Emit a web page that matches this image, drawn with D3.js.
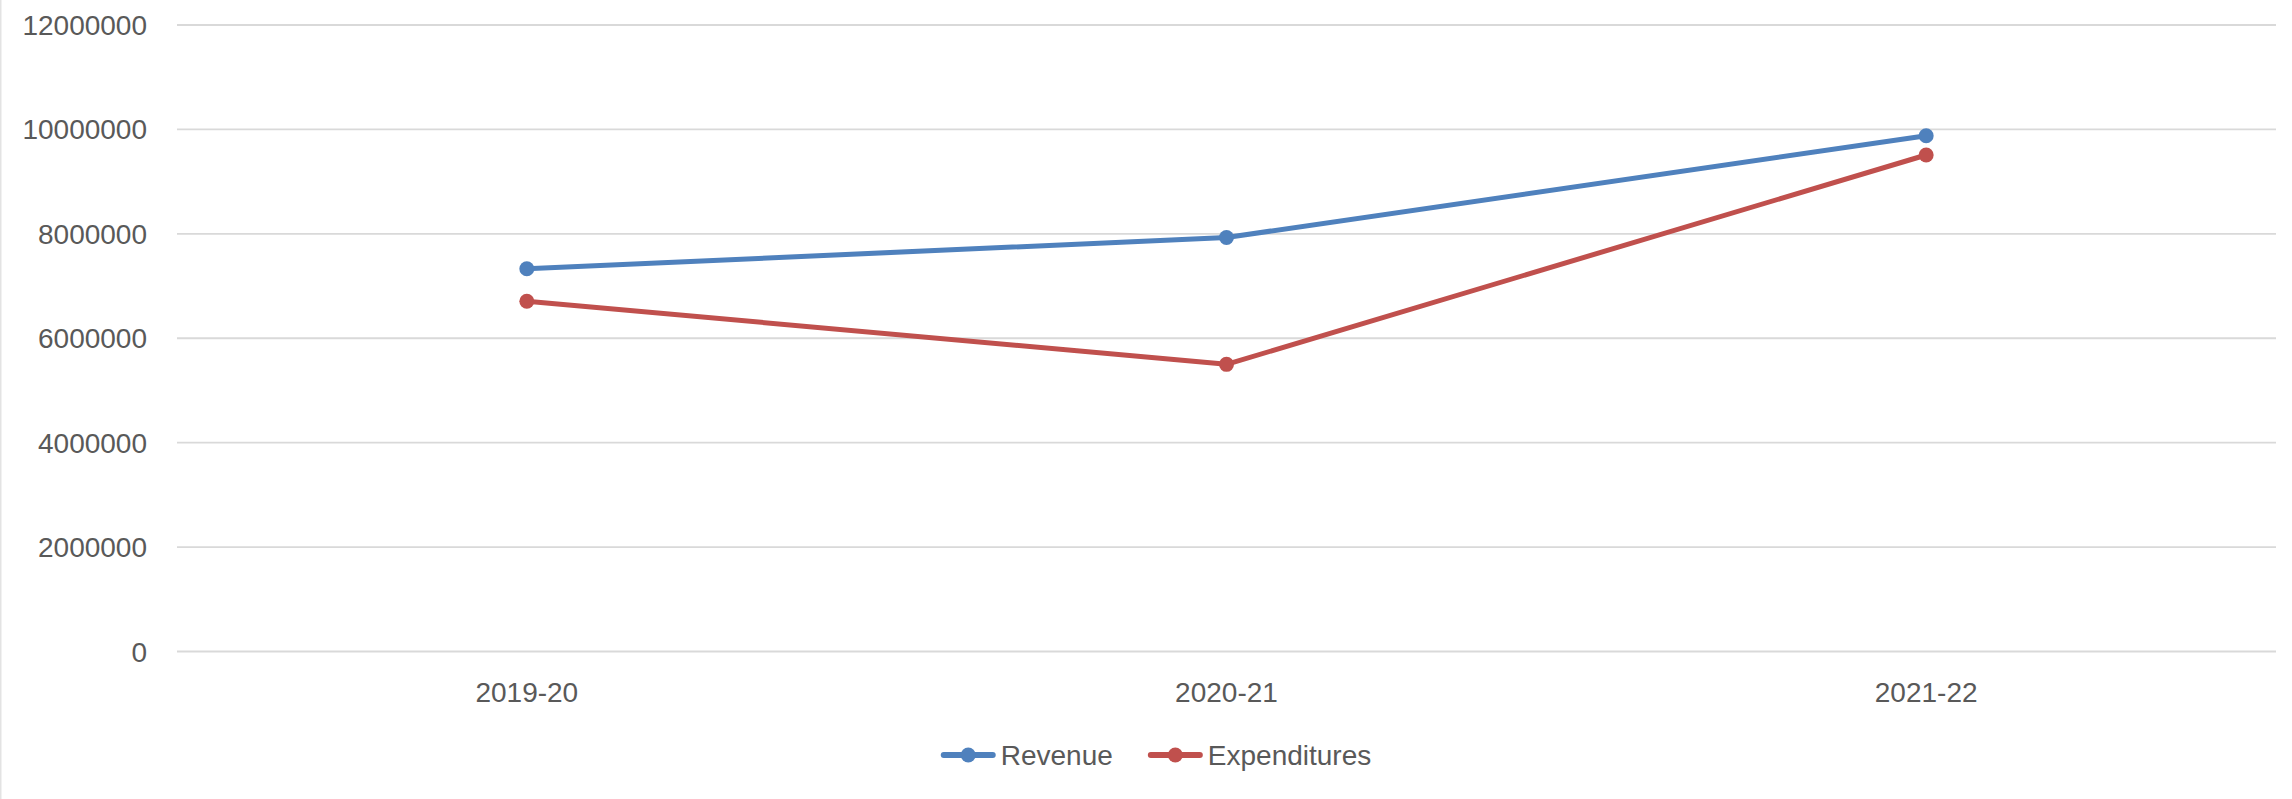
<!DOCTYPE html>
<html lang="en">
<head>
<meta charset="utf-8">
<title>Revenue and Expenditures</title>
<script src="https://cdn.jsdelivr.net/npm/d3@7"></script>
<style>
  body { margin: 0; background: #fff; }
  .tick-label { font-family: "Liberation Sans", Arial, sans-serif; font-size: 28px; fill: #595959; }
  .legend-label { font-family: "Liberation Sans", Arial, sans-serif; font-size: 28px; fill: #595959; }
</style>
</head>
<body>
<svg width="2292" height="799"></svg>
<script>
// data
const years = ["2019-20", "2020-21", "2021-22"];
const revenue = [7330000, 7930000, 9880000];
const expenditures = [6710000, 5500000, 9510000];
const yTicks = [0, 2000000, 4000000, 6000000, 8000000, 10000000, 12000000];

const series = [
  { name: "Revenue", values: revenue, color: "#4f81bd" },
  { name: "Expenditures", values: expenditures, color: "#c0504d" }
];

const svg = d3.select("svg");
const width = 2292;
const plotLeft = 177, plotRight = 2276, plotTop = 25, plotBottom = 651.5;

const x = d3.scalePoint().domain(years).range([plotLeft, plotRight]).padding(0.5);
const y = d3.scaleLinear().domain([0, 12000000]).range([plotBottom, plotTop]);

// faint left border
svg.append("line")
  .attr("x1", 0.75).attr("x2", 0.75).attr("y1", 0).attr("y2", 799)
  .attr("stroke", "#e3e3e3").attr("stroke-width", 1.5);

// gridlines
svg.append("g").selectAll("line")
  .data(yTicks)
  .join("line")
  .attr("x1", plotLeft).attr("x2", plotRight)
  .attr("y1", d => y(d)).attr("y2", d => y(d))
  .attr("stroke", "#d9d9d9")
  .attr("stroke-width", 1.8);

// y labels
svg.append("g").selectAll("text")
  .data(yTicks)
  .join("text")
  .attr("class", "tick-label")
  .attr("x", 147)
  .attr("y", d => y(d))
  .attr("dy", "0.36em")
  .attr("text-anchor", "end")
  .text(d => d3.format("d")(d));

// x labels
svg.append("g").selectAll("text")
  .data(years)
  .join("text")
  .attr("class", "tick-label")
  .attr("x", d => x(d))
  .attr("y", 702)
  .attr("text-anchor", "middle")
  .text(d => d);

// lines + markers
const line = d3.line()
  .x((d, i) => x(years[i]))
  .y(d => y(d));

series.forEach(s => {
  svg.append("path")
    .datum(s.values)
    .attr("fill", "none")
    .attr("stroke", s.color)
    .attr("stroke-width", 5)
    .attr("stroke-linejoin", "round")
    .attr("d", line);

  svg.append("g").selectAll("circle")
    .data(s.values)
    .join("circle")
    .attr("cx", (d, i) => x(years[i]))
    .attr("cy", d => y(d))
    .attr("r", 7.5)
    .attr("fill", s.color);
});

// legend
const legend = svg.append("g");
const legY = 755;
const items = legend.selectAll("g")
  .data(series)
  .join("g");

items.append("line")
  .attr("x1", 3).attr("x2", 52)
  .attr("y1", legY).attr("y2", legY)
  .attr("stroke", d => d.color)
  .attr("stroke-width", 6)
  .attr("stroke-linecap", "round");

items.append("circle")
  .attr("cx", 27.5).attr("cy", legY)
  .attr("r", 7.5)
  .attr("fill", d => d.color);

items.append("text")
  .attr("class", "legend-label")
  .attr("x", 60)
  .attr("y", legY)
  .attr("dy", "0.36em")
  .text(d => d.name);

// lay the legend items out side by side, centred on the chart
let offset = 0;
const widths = [];
items.each(function () {
  const w = 60 + this.querySelector("text").getComputedTextLength();
  widths.push(w);
});
const gap = 35;
const total = d3.sum(widths) + gap * (widths.length - 1);
const start = width / 2 + 10 - total / 2;
items.attr("transform", (d, i) => {
  const t = `translate(${start + offset},0)`;
  offset += widths[i] + gap;
  return t;
});
</script>
</body>
</html>
